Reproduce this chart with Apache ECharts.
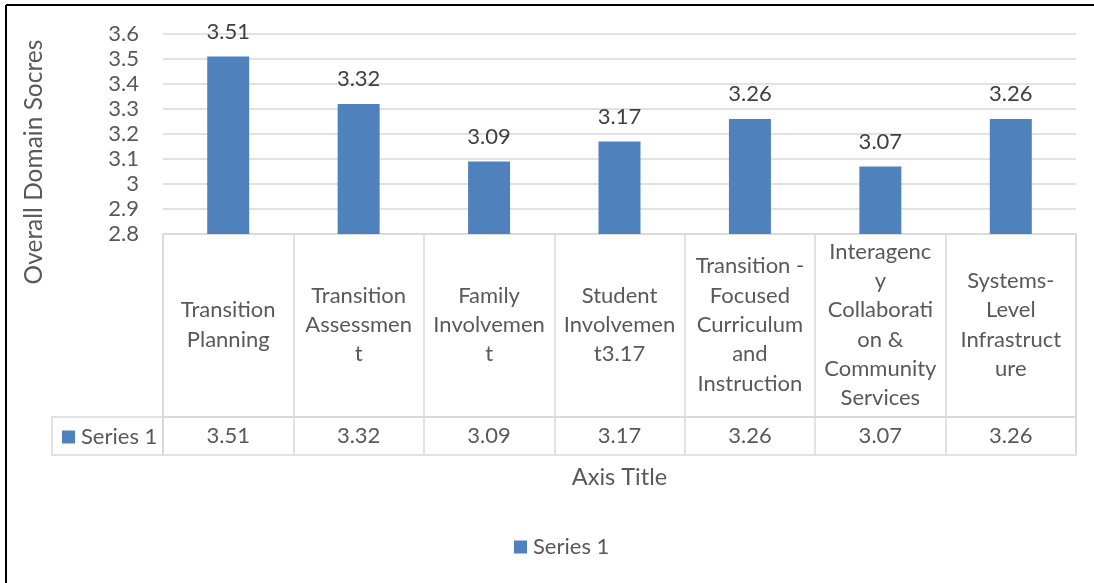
<!DOCTYPE html>
<html><head><meta charset="utf-8">
<script src="https://cdn.jsdelivr.net/npm/echarts@6/dist/echarts.min.js"></script>
<style>html,body{margin:0;padding:0;background:#fff}#c{width:1094px;height:583px}</style>
</head><body><div id="c"></div>
<script>
const categories = [
  "Transition\nPlanning",
  "Transition\nAssessmen\nt",
  "Family\nInvolvemen\nt",
  "Student\nInvolvemen\nt3.17",
  "Transition -\nFocused\nCurriculum\nand\nInstruction",
  "Interagenc\ny\nCollaborati\non &\nCommunity\nServices",
  "Systems-\nLevel\nInfrastruct\nure"
];
const seriesName = "Series 1";
const values = [3.51, 3.32, 3.09, 3.17, 3.26, 3.07, 3.26];
const yTicks = { min: 2.8, max: 3.6, interval: 0.1 };
const yTitle = "Overall Domain Socres";
const xTitle = "Axis Title";

const FONT = "Lato, 'Liberation Sans', sans-serif";
const GRAY = "#595959";
const LINE = "#d9d9d9";
const BLUE = "#4f81bd";
const FS = 22;

const chart = echarts.init(document.getElementById('c'));
chart.setOption({
  animation: false,
  textStyle: { fontFamily: FONT },
  grid: [
    { left: 163, right: 18, top: 34, height: 200 },
    { left: 163, right: 18, top: 234, height: 183, show: true, borderColor: LINE, borderWidth: 1.5, backgroundColor: 'transparent' },
    { left: 163, right: 18, top: 417, height: 38, show: true, borderColor: LINE, borderWidth: 1.5, backgroundColor: 'transparent' }
  ],
  xAxis: [
    { gridIndex: 0, type: 'category', data: categories,
      axisLine: { show: false }, axisTick: { show: false },
      axisLabel: { interval: 0, margin: 91, verticalAlign: 'middle', align: 'center',
        fontSize: FS, lineHeight: 29.3, color: GRAY, fontFamily: FONT } },
    { gridIndex: 1, type: 'category', data: categories,
      axisLine: { show: false }, axisTick: { show: false }, axisLabel: { show: false },
      splitLine: { show: true, interval: 0, lineStyle: { color: LINE, width: 1.5 } } },
    { gridIndex: 2, type: 'category', data: values.map(v => v.toFixed(2)),
      axisLine: { show: false }, axisTick: { show: false },
      axisLabel: { interval: 0, margin: -19, verticalAlign: 'middle', fontSize: FS, color: GRAY, fontFamily: FONT },
      splitLine: { show: true, interval: 0, lineStyle: { color: LINE, width: 1.5 } },
      name: xTitle, nameLocation: 'middle', nameGap: 10,
      nameTextStyle: { fontSize: 23.5, color: GRAY, fontFamily: FONT } }
  ],
  yAxis: [
    { gridIndex: 0, type: 'value', min: yTicks.min, max: yTicks.max, interval: yTicks.interval,
      axisLine: { show: false }, axisTick: { show: false },
      axisLabel: { margin: 24, fontSize: FS, color: GRAY, fontFamily: FONT,
        formatter: v => String(Math.round(v * 10) / 10) },
      splitLine: { lineStyle: { color: LINE, width: 1.5 } } },
    { gridIndex: 1, type: 'value', show: false },
    { gridIndex: 2, type: 'value', show: false }
  ],
  legend: [
    { data: [seriesName], left: 514, top: 536, padding: 0, icon: 'rect', itemWidth: 13, itemHeight: 13, itemGap: 5,
      textStyle: { fontSize: FS, color: GRAY, fontFamily: FONT, padding: [0, 0, 0, 1] } },
    { data: [seriesName], left: 62, top: 426, padding: 0, icon: 'rect', itemWidth: 13, itemHeight: 13, itemGap: 5,
      textStyle: { fontSize: FS, color: GRAY, fontFamily: FONT, padding: [0, 0, 0, 1] } }
  ],
  graphic: [
    { type: 'rect', shape: { x: 52, y: 417, width: 111, height: 38 }, style: { fill: 'none', stroke: LINE, lineWidth: 1.5 } },
    { type: 'text', x: 34, y: 162, rotation: Math.PI / 2,
      style: { text: yTitle, fontSize: 24.5, fill: GRAY, fontFamily: FONT, align: 'center', verticalAlign: 'middle' } },
    { type: 'line', shape: { x1: 6, y1: 5, x2: 1094, y2: 5 }, style: { stroke: '#000', lineWidth: 2 } },
    { type: 'line', shape: { x1: 6, y1: 5, x2: 6, y2: 583 }, style: { stroke: '#000', lineWidth: 2 } }
  ],
  series: [{
    name: seriesName, type: 'bar', xAxisIndex: 0, yAxisIndex: 0,
    data: values, barWidth: 42,
    itemStyle: { color: BLUE },
    label: { show: true, position: 'top', distance: 14, fontSize: FS, color: '#404040', fontFamily: FONT,
      formatter: p => p.value.toFixed(2) }
  }]
});
</script></body></html>
